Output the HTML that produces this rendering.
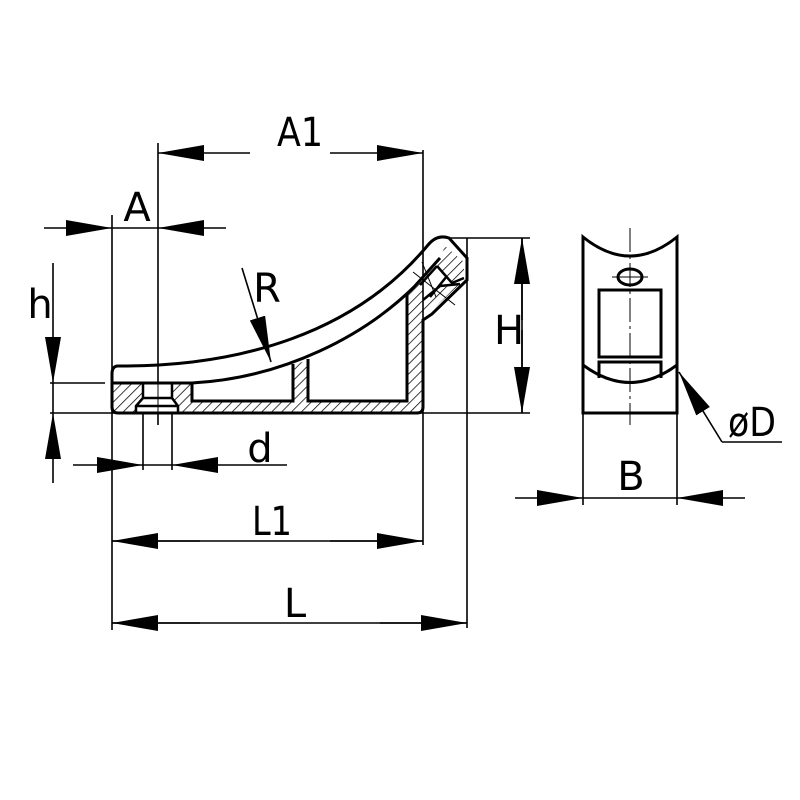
<!DOCTYPE html>
<html><head><meta charset="utf-8"><style>html,body{margin:0;padding:0;background:#fff}svg{display:block}</style></head>
<body>
<svg width="800" height="800" viewBox="0 0 800 800" xmlns="http://www.w3.org/2000/svg">
<defs>
<pattern id="hat" patternUnits="userSpaceOnUse" width="7" height="7" patternTransform="rotate(45)">
<line x1="0" y1="0" x2="0" y2="7" stroke="#000" stroke-width="1.5"/>
</pattern>
<marker id="ar" markerWidth="46" markerHeight="18" refX="46" refY="9" orient="auto" markerUnits="userSpaceOnUse">
<path d="M0,1 L46,9 L0,17 Z" fill="#000"/>
</marker>
</defs>
<g fill="none" stroke="#000" stroke-width="1.6">
<line x1="112" y1="215" x2="112" y2="630"/>
<line x1="158" y1="143" x2="158" y2="425"/>
<line x1="423" y1="150" x2="423" y2="545"/>
<line x1="467" y1="238" x2="467" y2="628"/>
<line x1="143" y1="395" x2="143" y2="470"/>
<line x1="172" y1="395" x2="172" y2="470"/>
<line x1="50" y1="383" x2="105" y2="383"/>
<line x1="50" y1="413" x2="530" y2="413"/>
<line x1="450" y1="238" x2="530" y2="238"/>
<line x1="250" y1="153" x2="158" y2="153" marker-end="url(#ar)"/>
<line x1="330" y1="153" x2="423" y2="153" marker-end="url(#ar)"/>
<line x1="44" y1="228" x2="112" y2="228" marker-end="url(#ar)"/>
<line x1="226" y1="228" x2="158" y2="228" marker-end="url(#ar)"/>
<line x1="112" y1="228" x2="158" y2="228"/>
<line x1="53" y1="263" x2="53" y2="383" marker-end="url(#ar)"/>
<line x1="53" y1="483" x2="53" y2="413" marker-end="url(#ar)"/>
<line x1="53" y1="383" x2="53" y2="413"/>
<line x1="73" y1="465" x2="143" y2="465" marker-end="url(#ar)"/>
<line x1="287" y1="465" x2="172" y2="465" marker-end="url(#ar)"/>
<line x1="143" y1="465" x2="172" y2="465"/>
<line x1="112" y1="541" x2="423" y2="541"/>
<line x1="200" y1="541" x2="112" y2="541" marker-end="url(#ar)"/>
<line x1="330" y1="541" x2="423" y2="541" marker-end="url(#ar)"/>
<line x1="112" y1="623" x2="467" y2="623"/>
<line x1="200" y1="623" x2="112" y2="623" marker-end="url(#ar)"/>
<line x1="380" y1="623" x2="467" y2="623" marker-end="url(#ar)"/>
<line x1="522" y1="238" x2="522" y2="413"/>
<line x1="522" y1="320" x2="522" y2="238" marker-end="url(#ar)"/>
<line x1="522" y1="330" x2="522" y2="413" marker-end="url(#ar)"/>
<line x1="242" y1="268" x2="271" y2="362" marker-end="url(#ar)"/>
<path d="M112,383 L192,383 L192,401 L293,401 L293,365 L308,360 L308,401 L407,401 L407,293 L423,280 L423,413 L112,413 Z" fill="url(#hat)" stroke="none"/>
<path d="M445,246 L464,262 L464,278 L452,283 L437,266 Z" fill="url(#hat)" stroke="none"/>
<path d="M423,300 L440,286 L460,284 L430,312 L423,318 Z" fill="url(#hat)" stroke="none"/>
<path d="M143,384 L143,398 L136,406 L136,413 L178,413 L178,406 L172,398 L172,384 Z" fill="#fff" stroke="none"/>
<path d="M118,366 C240,367 355,333 428,245 Q437,234 449,238 L467,258 L467,280 L432,314 L423,320 L423,407 Q423,413 417,413 L118,413 Q112,413 112,407 L112,374 Q112,366 118,366 Z" stroke-width="3"/>
<path d="M112,383 L192,383 C285,378 365,335 414,287 L440,258" stroke-width="3"/>
<path d="M192,383 L192,401 L293,401 L293,364 M308,359 L308,401 L407,401 L407,294" stroke-width="3"/>
<path d="M437,266 L452,283 L464,278 M420,285 L437,266 M423,300 L440,286 L460,284 M430,297 L447,276" stroke-width="2.5"/>
<line x1="413" y1="272" x2="455" y2="305" stroke-width="1"/>
<line x1="422" y1="262" x2="436" y2="297" stroke-width="1"/>
<path d="M143,384 L143,398 L172,398 L172,384 M143,398 L136,406 L136,413 M172,398 L178,406 L178,413 M136,406 L178,406" stroke-width="2.5"/>
<line x1="158" y1="380" x2="158" y2="425" stroke-width="1"/>
<path d="M583,237 L583,413 L677,413 L677,237 Q630,275 583,237 Z" stroke-width="3"/>
<path d="M583,365 Q630,400 677,365" stroke-width="3"/>
<rect x="599" y="290" width="62" height="67" stroke-width="3"/>
<path d="M599,378 L599,362 L661,362 L661,378" stroke-width="3"/>
<ellipse cx="630" cy="277" rx="12" ry="8" stroke-width="3"/>
<line x1="612" y1="277" x2="648" y2="277" stroke-width="1"/>
<line x1="630" y1="228" x2="630" y2="425" stroke-width="1" stroke-dasharray="24,4,3,4"/>
<line x1="583" y1="413" x2="583" y2="505"/>
<line x1="677" y1="413" x2="677" y2="505"/>
<line x1="515" y1="498" x2="583" y2="498" marker-end="url(#ar)"/>
<line x1="745" y1="498" x2="677" y2="498" marker-end="url(#ar)"/>
<line x1="583" y1="498" x2="677" y2="498"/>
<line x1="782" y1="442" x2="722" y2="442"/>
<line x1="722" y1="442" x2="679" y2="372" marker-end="url(#ar)"/>
</g>
<g font-family="DejaVu Sans, Liberation Sans, sans-serif" font-size="40" fill="#000" text-anchor="middle">
<text x="300" y="146" textLength="46" lengthAdjust="spacingAndGlyphs">A1</text>
<text x="137" y="221">A</text>
<text x="40" y="318">h</text>
<text x="267" y="302">R</text>
<text x="260" y="462">d</text>
<text x="272" y="535" textLength="40" lengthAdjust="spacingAndGlyphs">L1</text>
<text x="295" y="617">L</text>
<text x="509" y="344">H</text>
<text x="631" y="490">B</text>
<text x="752" y="436" textLength="48" lengthAdjust="spacingAndGlyphs">øD</text>
</g>
</svg>
</body></html>
